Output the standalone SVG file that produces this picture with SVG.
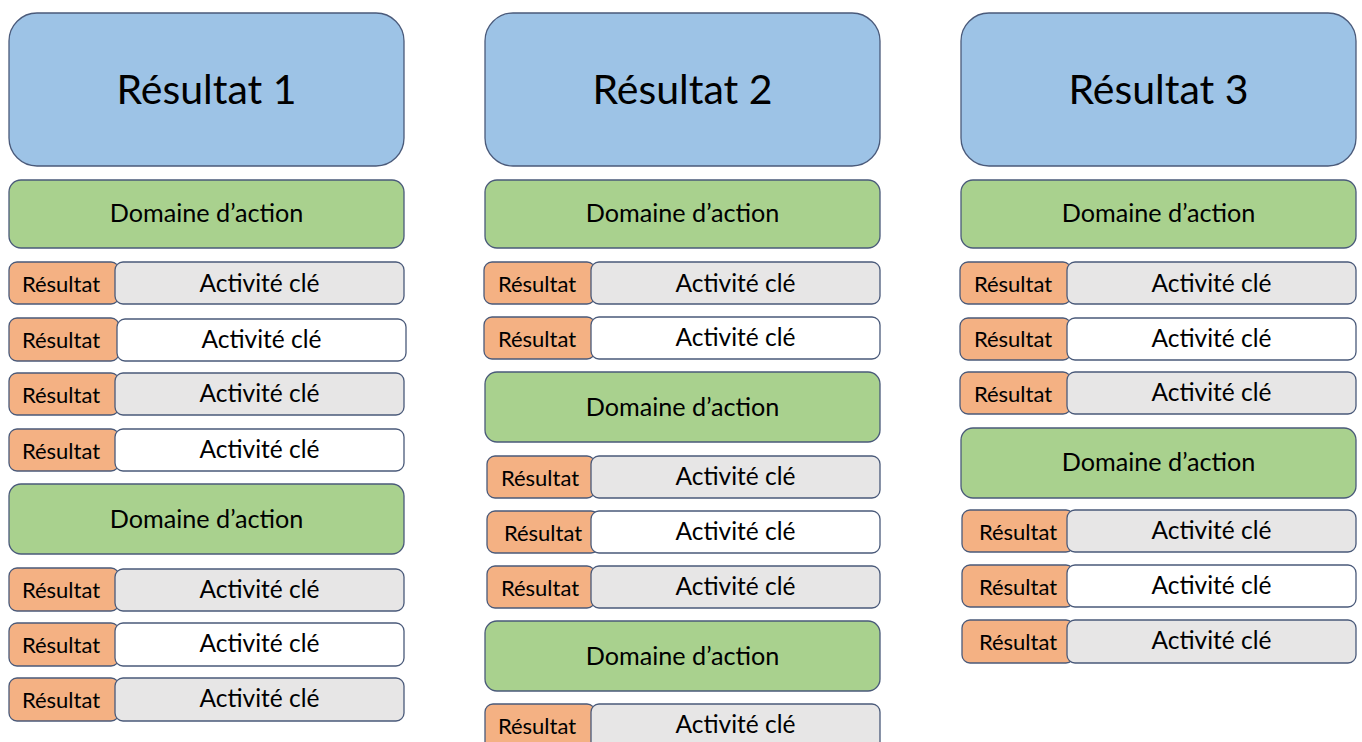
<svg xmlns="http://www.w3.org/2000/svg" width="1362" height="742" viewBox="0 0 1362 742">
<style>
  .sh { stroke: #4A5A7A; stroke-width: 1.3; }
  .big { fill: #9DC3E6; }
  .dom { fill: #A9D18E; }
  .res { fill: #F4B183; }
  .gry { fill: #E7E6E6; }
  .wht { fill: #FFFFFF; }
  text { font-family: Lato, "Liberation Sans", sans-serif; fill: #000; text-anchor: middle; }
  .t1 { font-size: 41px; }
  .t2 { font-size: 25.2px; }
  .t3 { font-size: 24.5px; }
  .t4 { font-size: 22px; }
</style>
<rect width="1362" height="742" fill="#FFFFFF"/>

<!-- Column 1 -->
<g id="resultat1"><rect class="sh big" x="9" y="13" width="395" height="153" rx="28"/><text class="t1" x="206.5" y="104">Résultat 1</text></g>
<g id="c1-dom1"><rect class="sh dom" x="9" y="180" width="395" height="68" rx="12"/><text class="t2" x="206.5" y="222">Domaine d’action</text></g>
<g id="c1-r1"><rect class="sh res" x="9" y="262" width="110" height="42" rx="8"/><rect class="sh gry" x="115" y="262" width="289" height="42" rx="8"/><text class="t4" x="61" y="292">Résultat</text><text class="t3" x="259.5" y="292">Activité clé</text></g>
<g id="c1-r2"><rect class="sh res" x="9" y="318" width="110" height="43" rx="8"/><rect class="sh wht" x="117" y="319" width="289" height="42" rx="8"/><text class="t4" x="61" y="348">Résultat</text><text class="t3" x="261.5" y="348">Activité clé</text></g>
<g id="c1-r3"><rect class="sh res" x="9" y="373" width="110" height="42" rx="8"/><rect class="sh gry" x="115" y="373" width="289" height="42" rx="8"/><text class="t4" x="61" y="403">Résultat</text><text class="t3" x="259.5" y="402">Activité clé</text></g>
<g id="c1-r4"><rect class="sh res" x="9" y="429" width="110" height="42" rx="8"/><rect class="sh wht" x="115" y="429" width="289" height="42" rx="8"/><text class="t4" x="61" y="459">Résultat</text><text class="t3" x="259.5" y="458">Activité clé</text></g>
<g id="c1-dom2"><rect class="sh dom" x="9" y="484" width="395" height="70" rx="12"/><text class="t2" x="206.5" y="528">Domaine d’action</text></g>
<g id="c1-r5"><rect class="sh res" x="9" y="568" width="110" height="43" rx="8"/><rect class="sh gry" x="115" y="569" width="289" height="42" rx="8"/><text class="t4" x="61" y="598">Résultat</text><text class="t3" x="259.5" y="598">Activité clé</text></g>
<g id="c1-r6"><rect class="sh res" x="9" y="623" width="110" height="43" rx="8"/><rect class="sh wht" x="115" y="623" width="289" height="43" rx="8"/><text class="t4" x="61" y="653">Résultat</text><text class="t3" x="259.5" y="652">Activité clé</text></g>
<g id="c1-r7"><rect class="sh res" x="9" y="678" width="110" height="43" rx="8"/><rect class="sh gry" x="115" y="678" width="289" height="43" rx="8"/><text class="t4" x="61" y="708">Résultat</text><text class="t3" x="259.5" y="707">Activité clé</text></g>

<!-- Column 2 -->
<g id="resultat2"><rect class="sh big" x="485" y="13" width="395" height="153" rx="28"/><text class="t1" x="682.5" y="104">Résultat 2</text></g>
<g id="c2-dom1"><rect class="sh dom" x="485" y="180" width="395" height="68" rx="12"/><text class="t2" x="682.5" y="222">Domaine d’action</text></g>
<g id="c2-r1"><rect class="sh res" x="484" y="262" width="111" height="42" rx="8"/><rect class="sh gry" x="591" y="262" width="289" height="42" rx="8"/><text class="t4" x="537" y="292">Résultat</text><text class="t3" x="735.5" y="292">Activité clé</text></g>
<g id="c2-r2"><rect class="sh res" x="484" y="317" width="111" height="42" rx="8"/><rect class="sh wht" x="591" y="317" width="289" height="42" rx="8"/><text class="t4" x="537" y="347">Résultat</text><text class="t3" x="735.5" y="346">Activité clé</text></g>
<g id="c2-dom2"><rect class="sh dom" x="485" y="372" width="395" height="70" rx="12"/><text class="t2" x="682.5" y="416">Domaine d’action</text></g>
<g id="c2-r3"><rect class="sh res" x="487" y="456" width="108" height="42" rx="8"/><rect class="sh gry" x="591" y="456" width="289" height="42" rx="8"/><text class="t4" x="540" y="486">Résultat</text><text class="t3" x="735.5" y="485">Activité clé</text></g>
<g id="c2-r4"><rect class="sh res" x="487" y="511" width="112" height="42" rx="8"/><rect class="sh wht" x="591" y="511" width="289" height="42" rx="8"/><text class="t4" x="543" y="541">Résultat</text><text class="t3" x="735.5" y="540">Activité clé</text></g>
<g id="c2-r5"><rect class="sh res" x="487" y="566" width="108" height="42" rx="8"/><rect class="sh gry" x="591" y="566" width="289" height="42" rx="8"/><text class="t4" x="540" y="596">Résultat</text><text class="t3" x="735.5" y="595">Activité clé</text></g>
<g id="c2-dom3"><rect class="sh dom" x="485" y="621" width="395" height="70" rx="12"/><text class="t2" x="682.5" y="665">Domaine d’action</text></g>
<g id="c2-r6"><rect class="sh res" x="485" y="704" width="110" height="46" rx="8"/><rect class="sh gry" x="591" y="704" width="289" height="46" rx="8"/><text class="t4" x="537" y="734">Résultat</text><text class="t3" x="735.5" y="733">Activité clé</text></g>

<!-- Column 3 -->
<g id="resultat3"><rect class="sh big" x="961" y="13" width="395" height="153" rx="28"/><text class="t1" x="1158.5" y="104">Résultat 3</text></g>
<g id="c3-dom1"><rect class="sh dom" x="961" y="180" width="395" height="68" rx="12"/><text class="t2" x="1158.5" y="222">Domaine d’action</text></g>
<g id="c3-r1"><rect class="sh res" x="960" y="262" width="111" height="42" rx="8"/><rect class="sh gry" x="1067" y="262" width="289" height="42" rx="8"/><text class="t4" x="1013" y="292">Résultat</text><text class="t3" x="1211.5" y="292">Activité clé</text></g>
<g id="c3-r2"><rect class="sh res" x="960" y="318" width="111" height="42" rx="8"/><rect class="sh wht" x="1067" y="318" width="289" height="42" rx="8"/><text class="t4" x="1013" y="347">Résultat</text><text class="t3" x="1211.5" y="347">Activité clé</text></g>
<g id="c3-r3"><rect class="sh res" x="960" y="372" width="111" height="42" rx="8"/><rect class="sh gry" x="1067" y="372" width="289" height="42" rx="8"/><text class="t4" x="1013" y="402">Résultat</text><text class="t3" x="1211.5" y="401">Activité clé</text></g>
<g id="c3-dom2"><rect class="sh dom" x="961" y="428" width="395" height="70" rx="12"/><text class="t2" x="1158.5" y="471">Domaine d’action</text></g>
<g id="c3-r4"><rect class="sh res" x="962" y="510" width="112" height="42" rx="8"/><rect class="sh gry" x="1067" y="510" width="289" height="42" rx="8"/><text class="t4" x="1018" y="540">Résultat</text><text class="t3" x="1211.5" y="539">Activité clé</text></g>
<g id="c3-r5"><rect class="sh res" x="962" y="565" width="112" height="42" rx="8"/><rect class="sh wht" x="1067" y="565" width="289" height="42" rx="8"/><text class="t4" x="1018" y="595">Résultat</text><text class="t3" x="1211.5" y="594">Activité clé</text></g>
<g id="c3-r6"><rect class="sh res" x="962" y="620" width="112" height="43" rx="8"/><rect class="sh gry" x="1067" y="620" width="289" height="43" rx="8"/><text class="t4" x="1018" y="650">Résultat</text><text class="t3" x="1211.5" y="649">Activité clé</text></g>

<g id="connectors"/>
</svg>
